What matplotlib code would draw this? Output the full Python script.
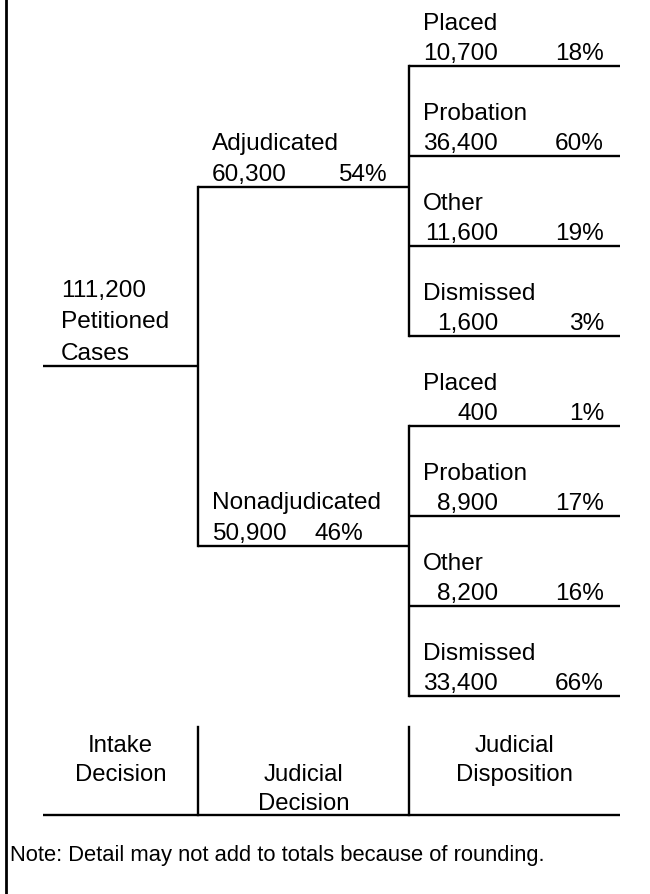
import matplotlib.pyplot as plt

plt.rcParams["font.family"] = ["Liberation Sans", "DejaVu Sans"]

# Case flow data
total_cases = 111200
total_label = ["Petitioned", "Cases"]

decision_names = ["Adjudicated", "Nonadjudicated"]
decision_counts = [60300, 50900]
decision_pcts = [54, 46]

disposition_names = ["Placed", "Probation", "Other", "Dismissed"]
adjudicated_counts = [10700, 36400, 11600, 1600]
adjudicated_pcts = [18, 60, 19, 3]
nonadjudicated_counts = [400, 8900, 8200, 33400]
nonadjudicated_pcts = [1, 17, 16, 66]

stage_labels = [["Intake", "Decision"], ["Judicial", "Decision"], ["Judicial", "Disposition"]]
note = "Note: Detail may not add to totals because of rounding."

# Layout (pixel units, y down)
W, H = 650, 894
col_x = [43, 198, 409, 620]
root_y = 366
decision_y = [187, 546]
decision_pct_x = [387, 363]
leaf_top, leaf_step = 66, 90
count_right = 498
pct_right = 604
FS = 17.6
LW = 1.7


def hline(ax, x0, x1, y, lw=LW):
    ax.plot([x0, x1], [y, y], color="black", lw=lw, solid_capstyle="butt")


def vline(ax, x, y0, y1, lw=LW):
    ax.plot([x, x], [y0, y1], color="black", lw=lw, solid_capstyle="projecting")


fig = plt.figure(figsize=(W / 100, H / 100), dpi=100)
ax = fig.add_axes([0, 0, 1, 1])
ax.set_xlim(0, W)
ax.set_ylim(H, 0)
ax.axis("off")

# Left frame edge
ax.plot([6, 6], [0, H], color="black", lw=2.0)

# Root node
hline(ax, col_x[0], col_x[1], root_y)
root_lines = [f"{total_cases:,}"] + total_label
for i, txt in enumerate(root_lines):
    ax.text(61, root_y - 6 - 31.5 * (len(root_lines) - 1 - i), txt,
            fontsize=FS, ha="left", va="baseline")

# Judicial decision nodes
vline(ax, col_x[1], decision_y[0], decision_y[1])
branches = [(adjudicated_counts, adjudicated_pcts), (nonadjudicated_counts, nonadjudicated_pcts)]
for k, (name, cnt, pct) in enumerate(zip(decision_names, decision_counts, decision_pcts)):
    y = decision_y[k]
    hline(ax, col_x[1], col_x[2], y)
    ax.text(212, y - 37, name, fontsize=FS, ha="left", va="baseline")
    ax.text(212, y - 6, f"{cnt:,}", fontsize=FS, ha="left", va="baseline")
    ax.text(decision_pct_x[k], y - 6, f"{pct}%", fontsize=FS, ha="right", va="baseline")

    # Disposition leaves
    counts, pcts = branches[k]
    ys = [leaf_top + leaf_step * (4 * k + j) for j in range(len(counts))]
    vline(ax, col_x[2], ys[0], ys[-1])
    for j, (dname, c, p) in enumerate(zip(disposition_names, counts, pcts)):
        ly = ys[j]
        hline(ax, col_x[2], col_x[3], ly)
        ax.text(423, ly - 36, dname, fontsize=FS, ha="left", va="baseline")
        ax.text(count_right, ly - 6, f"{c:,}", fontsize=FS, ha="right", va="baseline")
        ax.text(pct_right, ly - 6, f"{p}%", fontsize=FS, ha="right", va="baseline")

# Stage labels at the bottom
base_y = 815
hline(ax, col_x[0], col_x[3], base_y)
vline(ax, col_x[1], 727, base_y)
vline(ax, col_x[2], 727, base_y)
label_base = [752, 781, 752]
for i, lines in enumerate(stage_labels):
    cx = (col_x[i] + col_x[i + 1]) / 2
    for j, txt in enumerate(lines):
        ax.text(cx, label_base[i] + 29 * j, txt, fontsize=17.2, ha="center", va="baseline")

ax.text(10, 861, note, fontsize=15.8, ha="left", va="baseline")

fig.savefig("out.png", dpi=100)
